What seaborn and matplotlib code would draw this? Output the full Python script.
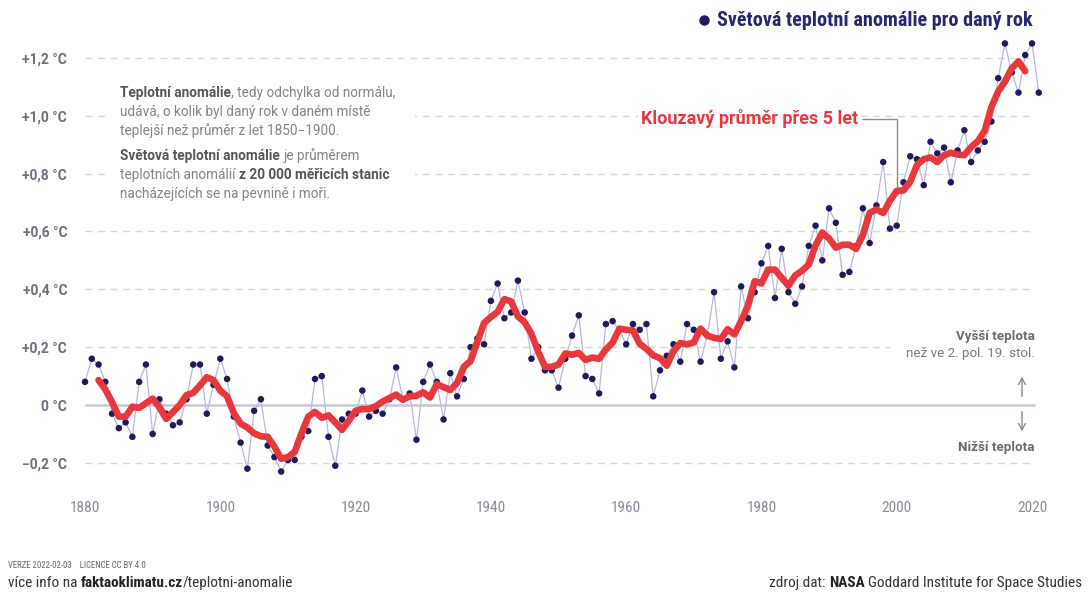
"""
Světová teplotní anomálie 1880-2021 (NASA GISS), s klouzavým průměrem přes 5 let
"""

import numpy as np
import pandas as pd
import matplotlib
matplotlib.use('Agg')
import matplotlib.pyplot as plt
from matplotlib.transforms import IdentityTransform
from matplotlib.lines import Line2D
from matplotlib.patches import Rectangle
import seaborn as sns

# Data (anomálie vůči 1850-1900)
years = list(range(1880, 2022))
anomaly = [
    0.08, 0.16, 0.14, 0.08, -0.03, -0.08, -0.06, -0.11, 0.08, 0.14,   # 1880-1889
    -0.10, 0.02, -0.03, -0.07, -0.06, 0.02, 0.14, 0.14, -0.03, 0.07,  # 1890-1899
    0.16, 0.09, -0.04, -0.13, -0.22, -0.02, 0.02, -0.14, -0.18, -0.23,  # 1900-1909
    -0.19, -0.19, -0.11, -0.09, 0.09, 0.10, -0.11, -0.21, -0.05, -0.03,  # 1910-1919
    -0.03, 0.05, -0.04, -0.02, -0.03, 0.02, 0.13, 0.02, 0.04, -0.12,  # 1920-1929
    0.08, 0.14, 0.08, -0.05, 0.11, 0.03, 0.09, 0.20, 0.23, 0.21,      # 1930-1939
    0.36, 0.42, 0.30, 0.32, 0.43, 0.32, 0.16, 0.20, 0.12, 0.12,       # 1940-1949
    0.06, 0.16, 0.24, 0.31, 0.10, 0.09, 0.04, 0.28, 0.29, 0.26,       # 1950-1959
    0.21, 0.28, 0.26, 0.28, 0.03, 0.12, 0.17, 0.21, 0.15, 0.28,       # 1960-1969
    0.26, 0.15, 0.24, 0.39, 0.16, 0.22, 0.13, 0.41, 0.30, 0.39,       # 1970-1979
    0.49, 0.55, 0.37, 0.54, 0.39, 0.35, 0.41, 0.55, 0.62, 0.50,       # 1980-1989
    0.68, 0.63, 0.45, 0.46, 0.55, 0.68, 0.56, 0.69, 0.84, 0.61,       # 1990-1999
    0.62, 0.77, 0.86, 0.85, 0.76, 0.91, 0.87, 0.89, 0.77, 0.88,       # 2000-2009
    0.95, 0.84, 0.88, 0.91, 0.98, 1.13, 1.25, 1.15, 1.08, 1.21,       # 2010-2019
    1.25, 1.08,                                                       # 2020-2021
]

ytick_values = [-0.2, 0, 0.2, 0.4, 0.6, 0.8, 1.0, 1.2]
ytick_labels = ['\u22120,2 °C', '0 °C', '+0,2 °C', '+0,4 °C', '+0,6 °C',
                '+0,8 °C', '+1,0 °C', '+1,2 °C']
xtick_major = list(range(1880, 2021, 20))
xtick_minor = list(range(1890, 2011, 20))

df = pd.DataFrame({'rok': years, 'anomalie': anomaly})
df['klouzavy'] = df['anomalie'].rolling(5, center=True).mean()

# Barvy a písma
NAVY = '#1d1b5c'
TITLE = '#28266e'
RED = '#e8383e'
THIN = '#b9b9d6'
GRID = '#d6d6df'
ZERO = '#c6c6d6'
GRAY = '#858585'
DARK = '#555555'
TICK = '#6c6f7c'
BODY = ['Roboto', 'DejaVu Sans']
COND = ['Roboto Condensed', 'Liberation Sans Narrow', 'Roboto', 'DejaVu Sans']

sns.set_style('white')
plt.rcParams['font.family'] = BODY

W, H = 1090, 594
fig = plt.figure(figsize=(W / 100, H / 100), dpi=100)
ax = fig.add_axes([0.0718, 0.1818, 0.8874, 0.7694])
ax.set_xlim(1879, 2022)
ax.set_ylim(-0.28, 1.30)

# mřížka
grid_y = [v for v in ytick_values if v != 0]
ax.hlines(grid_y, 1880, 2020.5, colors=GRID, linestyles=(0, (5, 4)), lw=1, zorder=1)
ax.hlines(0, 1880, 2020.5, colors=ZERO, lw=1.8, zorder=1)

# roční hodnoty a klouzavý průměr
sns.lineplot(data=df, x='rok', y='anomalie', color=THIN, lw=0.9, ax=ax, zorder=2)
sns.scatterplot(data=df, x='rok', y='anomalie', color=NAVY, s=22,
                edgecolor='none', ax=ax, zorder=3)
sns.lineplot(data=df.dropna(), x='rok', y='klouzavy', color=RED, lw=4.8, ax=ax,
             zorder=4, solid_capstyle='round', solid_joinstyle='round')

ax.set_xlabel('')
ax.set_ylabel('')
sns.despine(ax=ax, left=True, bottom=True)

ax.set_yticks(ytick_values)
ax.set_yticklabels(ytick_labels)
ax.tick_params(axis='y', length=0, pad=8, labelsize=10, labelcolor=TICK)
for lbl in ax.get_yticklabels():
    lbl.set_fontweight('semibold')

ax.set_xticks(xtick_major)
ax.set_xticks(xtick_minor, minor=True)
ax.set_xticklabels([str(y) for y in xtick_major])
ax.tick_params(axis='x', which='both', length=5, width=1, color='#b0b0b8',
               direction='out', pad=6, labelsize=11, labelcolor='#8a8d99')
for lbl in ax.get_xticklabels():
    lbl.set_family(COND)

# popisek klouzavého průměru
ma2000 = df.loc[df['rok'] == 2000, 'klouzavy'].iloc[0]
ax.plot([1994.9, 2000, 2000], [0.99, 0.99, ma2000], color='#8c8c8c', lw=1, zorder=3)
ax.text(1994.3, 0.99, 'Klouzavý průměr přes 5 let', ha='right', va='center',
        color=RED, fontsize=13, fontweight='bold', zorder=5,
        bbox=dict(facecolor='white', edgecolor='none', pad=2))

# textové bloky v pixelech obrázku (y od horního okraje)
renderer = fig.canvas.get_renderer()
PIX = IdentityTransform()


def text_width(s, **props):
    t = fig.text(0, 0, s, transform=PIX, **props)
    w = t.get_window_extent(renderer).width
    t.remove()
    return w


def rich_line(x, y, parts, ha='left', **props):
    space = text_width('a a', **props) - text_width('aa', **props)
    items = []
    for s, weight, color in parts:
        gap = space if s.startswith(' ') else 0
        s = s.strip()
        items.append((s, weight, color, text_width(s, weight=weight, **props), gap))
    total = sum(w + g for _, _, _, w, g in items)
    cx = x - total if ha == 'right' else x
    for s, weight, color, w, g in items:
        cx += g
        fig.text(cx, H - y, s, transform=PIX, weight=weight, color=color,
                 ha='left', va='baseline', zorder=5, **props)
        cx += w


# bílé podklady pod texty
fig.add_artist(Rectangle((105, H - 212), 310, 135, transform=PIX,
                         facecolor='white', edgecolor='none', zorder=1))
fig.add_artist(Rectangle((890, H - 362), 150, 38, transform=PIX,
                         facecolor='white', edgecolor='none', zorder=1))

info = dict(fontsize=9.8, family=BODY)
rich_line(120, 97, [('Teplotní anomálie', 'bold', DARK),
                    (', tedy odchylka od normálu,', 'normal', GRAY)], **info)
rich_line(120, 116, [('udává, o kolik byl daný rok v daném místě', 'normal', GRAY)], **info)
rich_line(120, 135, [('teplejší než průměr z let 1850\u22121900.', 'normal', GRAY)], **info)
rich_line(120, 160, [('Světová teplotní anomálie', 'bold', DARK),
                     (' je průměrem', 'normal', GRAY)], **info)
rich_line(120, 179, [('teplotních anomálií', 'normal', GRAY),
                     (' z 20 000 měřicích stanic', 'bold', DARK)], **info)
rich_line(120, 198, [('nacházejících se na pevnině i moři.', 'normal', GRAY)], **info)

# pravé popisky nad/pod nulou
side = dict(fontsize=9.6, family=BODY)
rich_line(1035, 340, [('Vyšší teplota', 'bold', '#6a6a6a')], ha='right', **side)
rich_line(1035, 357, [('než ve 2. pol. 19. stol.', 'normal', '#7a7a7a')], ha='right', **side)
rich_line(1035, 451, [('Nižší teplota', 'bold', '#6a6a6a')], ha='right', **side)
arrow = dict(arrowstyle='->,head_length=0.45,head_width=0.25', color='#888888', lw=1)
ax.annotate('', xy=(1022, H - 374), xytext=(1022, H - 399),
            xycoords='figure pixels', textcoords='figure pixels', arrowprops=arrow)
ax.annotate('', xy=(1022, H - 434), xytext=(1022, H - 409),
            xycoords='figure pixels', textcoords='figure pixels', arrowprops=arrow)

# legenda nahoře
fig.add_artist(Line2D([704], [H - 20], marker='o', ms=6.5, color=NAVY,
                      transform=PIX, zorder=5))
fig.text(1033, H - 20, 'Světová teplotní anomálie pro daný rok', transform=PIX,
         ha='right', va='center', color=TITLE, fontsize=14.5, fontweight='bold',
         family=COND)

# patička
fig.text(8, H - 565, 'VERZE 2022-02-03    LICENCE CC BY 4.0', transform=PIX,
         ha='left', va='center', color='#666666', fontsize=6.3, family=COND)
foot = dict(fontsize=11, family=COND)
rich_line(8, 587, [('více info na', 'normal', '#333333'),
                   (' faktaoklimatu.cz', 'bold', '#222222'),
                   ('/teplotni-anomalie', 'normal', '#333333')], **foot)
rich_line(1082, 587, [('zdroj dat:', 'normal', '#333333'),
                      (' NASA', 'bold', '#222222'),
                      (' Goddard Institute for Space Studies', 'normal', '#333333')],
          ha='right', **foot)

fig.savefig('out.png', dpi=100)
print("saved out.png")
